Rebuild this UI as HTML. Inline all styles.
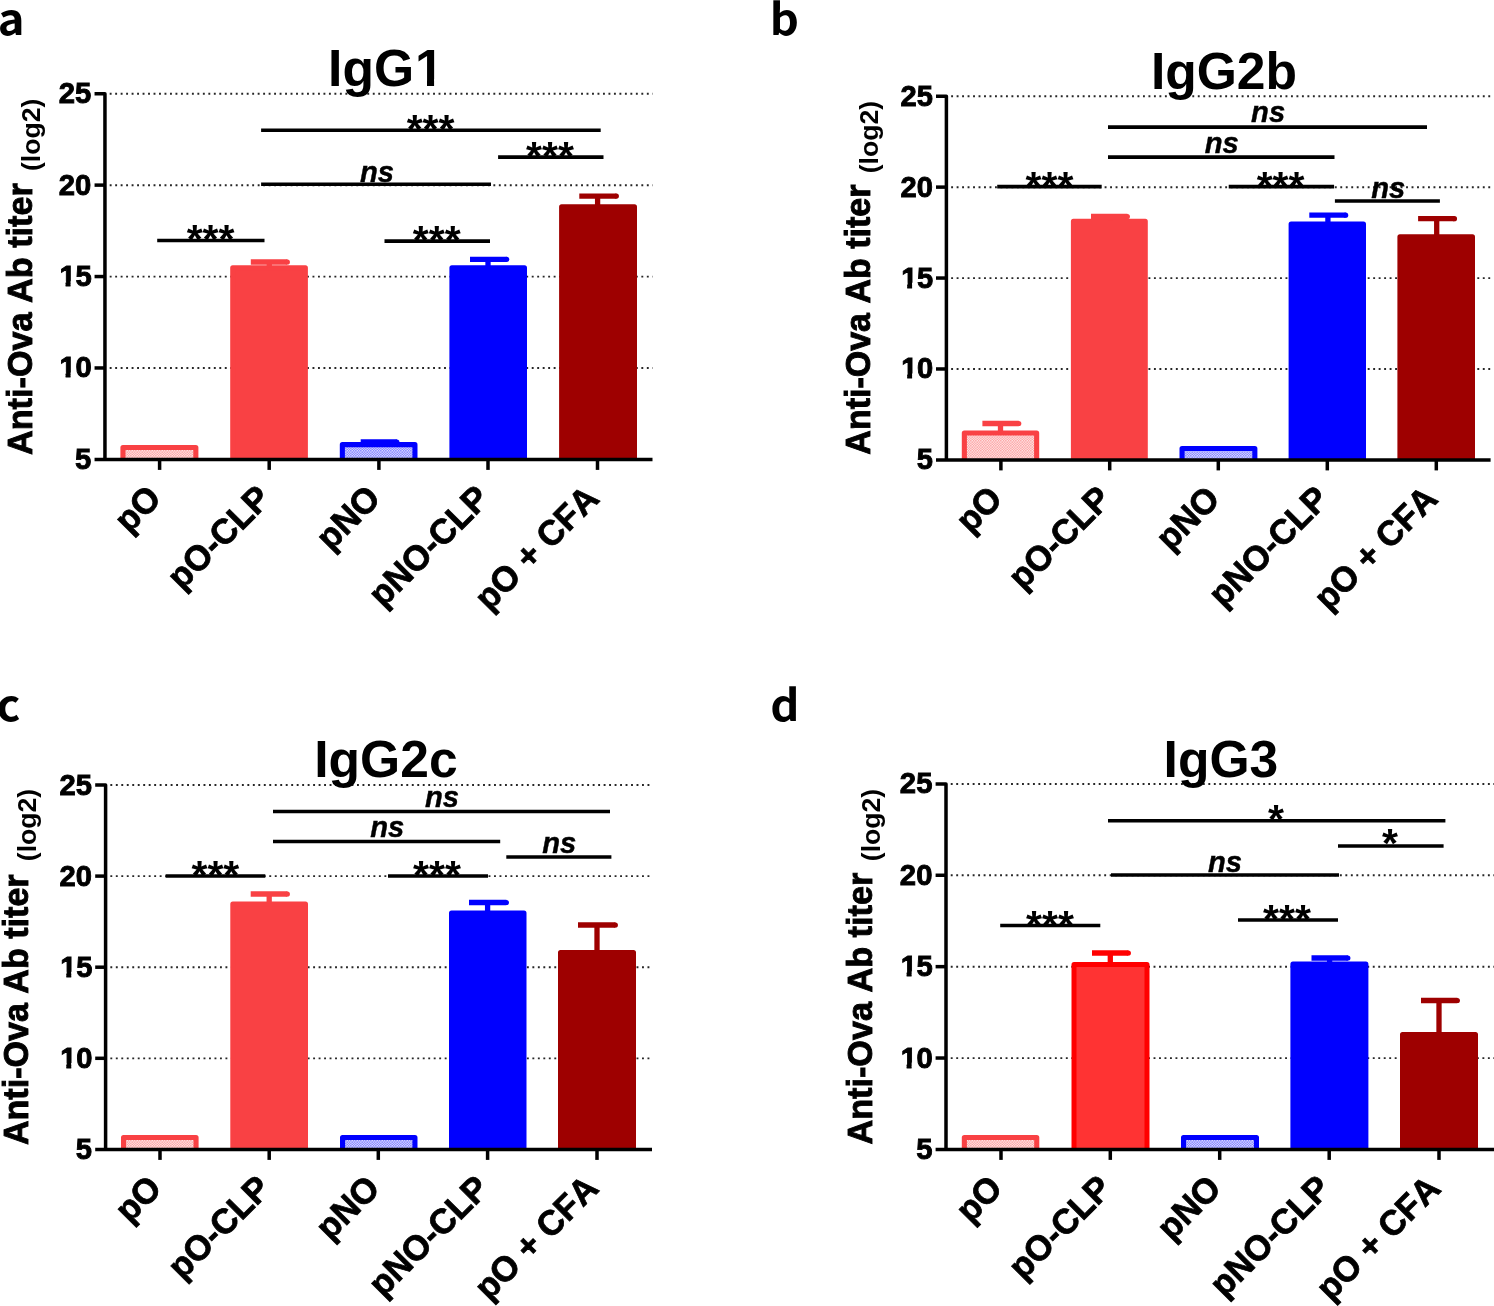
<!DOCTYPE html>
<html lang="en"><head><meta charset="utf-8"><title>Anti-Ova antibody titers: IgG1, IgG2b, IgG2c, IgG3</title>
<style>
html,body{margin:0;padding:0;background:#fff}
body{width:1494px;height:1306px}
svg{display:block}
text{font-family:"Liberation Sans", sans-serif;font-weight:bold;fill:#000;font-kerning:none}
.g{stroke:#262626;stroke-width:1.9;stroke-dasharray:1.9 3.581}
.a{stroke:#000;stroke-width:3.5;fill:none;stroke-linejoin:round}
.s{stroke:#000;stroke-width:3.6;fill:none}
.t{font-size:29.25px;stroke:#000;stroke-width:.9px}
.x{font-size:34.45px;stroke:#000;stroke-width:.75px}
.y{font-size:34.23px;stroke:#000;stroke-width:.9px}
.pb .t{font-size:29.09px}.pb .x{font-size:34.26px}.pb .y{font-size:34.0px}
.pc .t{font-size:29.16px}.pc .x{font-size:34.35px}.pc .y{font-size:34.09px}
.pd .t{font-size:29.25px}.pd .x{font-size:34.45px}.pd .y{font-size:34.23px}
.y2{font-size:26.6px}
.ti{font-size:51.6px}
.pl{font-family:"Noto Sans CJK SC","Liberation Sans",sans-serif;font-size:43.6px}
.st{font-size:41px}
.ns{font-size:29.2px;font-style:italic;stroke:#000;stroke-width:.4px}
</style></head><body>
<svg width="1494" height="1306" viewBox="0 0 1494 1306" role="img" aria-label="Anti-Ova antibody titers (log2) for IgG1, IgG2b, IgG2c and IgG3">
<defs>
<pattern id="hr" width="2.5" height="2.5" patternUnits="userSpaceOnUse" patternTransform="translate(.3 .2)"><rect width="2.5" height="2.5" fill="#fff"/><rect width="1.25" height="1.25" fill="#F94144" fill-opacity=".64"/><rect x="1.25" y="1.25" width="1.25" height="1.25" fill="#F94144" fill-opacity=".64"/></pattern>
<pattern id="hb" width="2.5" height="2.5" patternUnits="userSpaceOnUse" patternTransform="translate(.3 .2)"><rect width="2.5" height="2.5" fill="#fff"/><rect width="1.25" height="1.25" fill="#0000FF" fill-opacity=".64"/><rect x="1.25" y="1.25" width="1.25" height="1.25" fill="#0000FF" fill-opacity=".64"/></pattern>
<clipPath id="ca"><rect x="0" y="0" width="1494" height="459.4"/></clipPath>
<clipPath id="cb"><rect x="0" y="0" width="1494" height="459.9"/></clipPath>
<clipPath id="cc"><rect x="0" y="0" width="1494" height="1149.4"/></clipPath>
</defs>
<rect width="1494" height="1306" fill="#fff"/>
<defs>
<clipPath id="k1"><path clip-rule="evenodd" d="M-400 -200H400V200H-400ZM-34.13 -4.79H-25.76V1.95H-34.13ZM-20.84 -4.79H-15.77L-14.07 1.95H-20.84Z"/></clipPath>
<clipPath id="k2"><path clip-rule="evenodd" d="M-400 -200H400V200H-400ZM27.12 -6.67H41.18V1.5H27.12ZM48.23 -6.67H60.08L60.08 1.5H48.23Z"/></clipPath>
<clipPath id="k3"><path clip-rule="evenodd" d="M-400 -200H400V200H-400ZM-33.96 -4.78H-25.62V1.95H-33.96ZM-20.72 -4.78H-15.68L-13.98 1.95H-20.72Z"/></clipPath>
<clipPath id="k4"><path clip-rule="evenodd" d="M-400 -200H400V200H-400ZM-34.04 -4.78H-25.68V1.95H-34.04ZM-20.78 -4.78H-15.72L-14.02 1.95H-20.78Z"/></clipPath>
</defs>
<g id="panel-a" class="pa">
<line class="g" x1="109.7" y1="93.75" x2="652.7" y2="93.75"/>
<line class="g" x1="109.7" y1="185.18" x2="652.7" y2="185.18"/>
<line class="g" x1="109.7" y1="276.6" x2="652.7" y2="276.6"/>
<line class="g" x1="109.7" y1="368.02" x2="652.7" y2="368.02"/>
<g clip-path="url(#ca)">
<rect x="122.95" y="447.45" width="72.9" height="14.5" fill="url(#hr)" stroke="#F94144" stroke-width="5.1" stroke-linejoin="round"/>
<rect x="232.7" y="267.8" width="72.7" height="194.1" fill="#F94144" stroke="#F94144" stroke-width="5" stroke-linejoin="round"/>
<rect x="342.35" y="444.65" width="72.6" height="17.3" fill="url(#hb)" stroke="#0000FF" stroke-width="5.1" stroke-linejoin="round"/>
<rect x="451.9" y="267.8" width="72.6" height="194.1" fill="#0000FF" stroke="#0000FF" stroke-width="5" stroke-linejoin="round"/>
<rect x="561.6" y="206.8" width="72.9" height="255.1" fill="#9E0000" stroke="#9E0000" stroke-width="5" stroke-linejoin="round"/>
</g>
<path d="M269.3 267.3V262" stroke="#F94144" stroke-width="5.3" fill="none"/>
<path d="M250.8 262H287.4" stroke="#F94144" stroke-width="5.3" fill="none"/>
<circle cx="287.35" cy="262" r="2.58" fill="#F94144"/>
<path d="M378.9 444.1V442" stroke="#0000FF" stroke-width="5.3" fill="none"/>
<path d="M360.7 442H396.9" stroke="#0000FF" stroke-width="5.3" fill="none"/>
<circle cx="396.85" cy="442" r="2.58" fill="#0000FF"/>
<path d="M488 267.3V259.3" stroke="#0000FF" stroke-width="5.3" fill="none"/>
<path d="M470 259.3H506.7" stroke="#0000FF" stroke-width="5.3" fill="none"/>
<circle cx="506.65" cy="259.3" r="2.58" fill="#0000FF"/>
<path d="M597.6 206.3V196.1" stroke="#9E0000" stroke-width="5.3" fill="none"/>
<path d="M579.3 196.1H616.4" stroke="#9E0000" stroke-width="5.3" fill="none"/>
<circle cx="616.35" cy="196.1" r="2.58" fill="#9E0000"/>
<path class="a" d="M94.55 93.7H104.95V459.4"/>
<path class="a" d="M94.55 459.4H652.5"/>
<path class="a" d="M94.55 185.12H104.95"/>
<path class="a" d="M94.55 276.55H104.95"/>
<path class="a" d="M94.55 367.97H104.95"/>
<path class="a" d="M159.6 459.4V469.9"/>
<path class="a" d="M269.2 459.4V469.9"/>
<path class="a" d="M378.9 459.4V469.9"/>
<path class="a" d="M488 459.4V469.9"/>
<path class="a" d="M597.5 459.4V469.9"/>
<text class="t" transform="translate(91.35 103.2) scale(1 1.025)" text-anchor="end">25</text>
<text class="t" transform="translate(91.35 194.62) scale(1 1.025)" text-anchor="end">20</text>
<text class="t" transform="translate(91.35 286.05) scale(1 1.025)" text-anchor="end" dx="0.4 -0.4" clip-path="url(#k1)">15</text>
<text class="t" transform="translate(91.35 377.47) scale(1 1.025)" text-anchor="end" dx="0.4 -0.4" clip-path="url(#k1)">10</text>
<text class="t" transform="translate(91.35 468.9) scale(1 1.025)" text-anchor="end">5</text>
<text class="x" transform="translate(162.9 500.3) rotate(-45) scale(1 1.025)" text-anchor="end">pO</text>
<text class="x" transform="translate(272.5 500.3) rotate(-45) scale(1 1.025)" text-anchor="end">pO-CLP</text>
<text class="x" transform="translate(382.2 500.3) rotate(-45) scale(1 1.025)" text-anchor="end">pNO</text>
<text class="x" transform="translate(491.3 500.3) rotate(-45) scale(1 1.025)" text-anchor="end">pNO-CLP</text>
<text class="x" transform="translate(600.8 500.3) rotate(-45) scale(1 1.025)" text-anchor="end">pO + CFA</text>
<text class="y" transform="translate(31.6 455) rotate(-90) scale(1 1.015)">Anti-Ova Ab titer</text>
<text class="y2" transform="translate(40 171) rotate(-90)">(log2)</text>
<text class="ti" transform="translate(385.85 86)" text-anchor="middle" dx="0 0 0 0.9" clip-path="url(#k2)">IgG1</text>
<text class="pl" transform="translate(-2.3 35.2) scale(1.04 1)">a</text>
<path class="s" d="M157.2 240.45H264.5"/>
<text class="st" x="210.6" y="253.45" text-anchor="middle">***</text>
<path class="s" d="M384.5 241.1H490"/>
<text class="st" x="436.8" y="254.1" text-anchor="middle">***</text>
<path class="s" d="M261.1 184.2H491"/>
<text class="ns" x="377" y="181.9" text-anchor="middle">ns</text>
<path class="s" d="M261.1 130.3H600.7"/>
<text class="st" x="430.6" y="143.3" text-anchor="middle">***</text>
<path class="s" d="M498.1 157.1H603.5"/>
<text class="st" x="550" y="170.1" text-anchor="middle">***</text>
</g>
<g id="panel-b" class="pb">
<line class="g" x1="951.15" y1="96.25" x2="1491.3" y2="96.25"/>
<line class="g" x1="951.15" y1="187.18" x2="1491.3" y2="187.18"/>
<line class="g" x1="951.15" y1="278.1" x2="1491.3" y2="278.1"/>
<line class="g" x1="951.15" y1="369.02" x2="1491.3" y2="369.02"/>
<g clip-path="url(#cb)">
<rect x="964.35" y="433.05" width="72.3" height="29.4" fill="url(#hr)" stroke="#F94144" stroke-width="5.1" stroke-linejoin="round"/>
<rect x="1073.4" y="221.2" width="71.9" height="241.2" fill="#F94144" stroke="#F94144" stroke-width="5" stroke-linejoin="round"/>
<rect x="1182.05" y="448.55" width="72.8" height="13.9" fill="url(#hb)" stroke="#0000FF" stroke-width="5.1" stroke-linejoin="round"/>
<rect x="1291.1" y="224" width="72.4" height="238.4" fill="#0000FF" stroke="#0000FF" stroke-width="5" stroke-linejoin="round"/>
<rect x="1399.9" y="236.7" width="72.6" height="225.7" fill="#9E0000" stroke="#9E0000" stroke-width="5" stroke-linejoin="round"/>
</g>
<path d="M1000.5 432.5V423.5" stroke="#F94144" stroke-width="5.3" fill="none"/>
<path d="M982.4 423.5H1018.8" stroke="#F94144" stroke-width="5.3" fill="none"/>
<circle cx="1018.75" cy="423.5" r="2.58" fill="#F94144"/>
<path d="M1109.7 220.7V216.5" stroke="#F94144" stroke-width="5.3" fill="none"/>
<path d="M1091 216.5H1127.4" stroke="#F94144" stroke-width="5.3" fill="none"/>
<circle cx="1127.35" cy="216.5" r="2.58" fill="#F94144"/>
<path d="M1327.9 223.5V215.2" stroke="#0000FF" stroke-width="5.3" fill="none"/>
<path d="M1309.3 215.2H1345.7" stroke="#0000FF" stroke-width="5.3" fill="none"/>
<circle cx="1345.65" cy="215.2" r="2.58" fill="#0000FF"/>
<path d="M1436.7 236.2V218.7" stroke="#9E0000" stroke-width="5.3" fill="none"/>
<path d="M1418.1 218.7H1454.5" stroke="#9E0000" stroke-width="5.3" fill="none"/>
<circle cx="1454.45" cy="218.7" r="2.58" fill="#9E0000"/>
<path class="a" d="M936 96.2H946.4V459.9"/>
<path class="a" d="M936 459.9H1490.6"/>
<path class="a" d="M936 187.12H946.4"/>
<path class="a" d="M936 278.05H946.4"/>
<path class="a" d="M936 368.97H946.4"/>
<path class="a" d="M1000.9 459.9V470.4"/>
<path class="a" d="M1109.7 459.9V470.4"/>
<path class="a" d="M1218.3 459.9V470.4"/>
<path class="a" d="M1327.3 459.9V470.4"/>
<path class="a" d="M1436.3 459.9V470.4"/>
<text class="t" transform="translate(932.8 105.7) scale(1 1.025)" text-anchor="end">25</text>
<text class="t" transform="translate(932.8 196.62) scale(1 1.025)" text-anchor="end">20</text>
<text class="t" transform="translate(932.8 287.55) scale(1 1.025)" text-anchor="end" dx="0.4 -0.4" clip-path="url(#k3)">15</text>
<text class="t" transform="translate(932.8 378.47) scale(1 1.025)" text-anchor="end" dx="0.4 -0.4" clip-path="url(#k3)">10</text>
<text class="t" transform="translate(932.8 469.4) scale(1 1.025)" text-anchor="end">5</text>
<text class="x" transform="translate(1004.2 500.8) rotate(-45) scale(1 1.025)" text-anchor="end">pO</text>
<text class="x" transform="translate(1113 500.8) rotate(-45) scale(1 1.025)" text-anchor="end">pO-CLP</text>
<text class="x" transform="translate(1221.6 500.8) rotate(-45) scale(1 1.025)" text-anchor="end">pNO</text>
<text class="x" transform="translate(1330.6 500.8) rotate(-45) scale(1 1.025)" text-anchor="end">pNO-CLP</text>
<text class="x" transform="translate(1439.6 500.8) rotate(-45) scale(1 1.025)" text-anchor="end">pO + CFA</text>
<text class="y" transform="translate(869.5 454.65) rotate(-90) scale(1 1.015)">Anti-Ova Ab titer</text>
<text class="y2" transform="translate(878 173.3) rotate(-90)">(log2)</text>
<text class="ti" x="1224" y="89" text-anchor="middle">IgG2b</text>
<text class="pl" transform="translate(769.8 35.3) scale(1.04 1)">b</text>
<path class="s" d="M997.2 186.6H1101.7"/>
<text class="st" x="1049.5" y="199.6" text-anchor="middle">***</text>
<path class="s" d="M1228.7 186.6H1334.1"/>
<text class="st" x="1280.6" y="199.6" text-anchor="middle">***</text>
<path class="s" d="M1108 157.1H1334.5"/>
<text class="ns" x="1221.8" y="152.7" text-anchor="middle">ns</text>
<path class="s" d="M1108 127.1H1427"/>
<text class="ns" x="1268.1" y="121.9" text-anchor="middle">ns</text>
<path class="s" d="M1334.9 201H1439.9"/>
<text class="ns" x="1388.3" y="198.4" text-anchor="middle">ns</text>
</g>
<g id="panel-c" class="pc">
<line class="g" x1="110.35" y1="785.05" x2="652.7" y2="785.05"/>
<line class="g" x1="110.35" y1="876.15" x2="652.7" y2="876.15"/>
<line class="g" x1="110.35" y1="967.25" x2="652.7" y2="967.25"/>
<line class="g" x1="110.35" y1="1058.35" x2="652.7" y2="1058.35"/>
<g clip-path="url(#cc)">
<rect x="123.55" y="1137.45" width="72.5" height="14.5" fill="url(#hr)" stroke="#F94144" stroke-width="5.1" stroke-linejoin="round"/>
<rect x="232.8" y="904" width="72.7" height="247.9" fill="#F94144" stroke="#F94144" stroke-width="5" stroke-linejoin="round"/>
<rect x="342.55" y="1137.55" width="72.4" height="14.4" fill="url(#hb)" stroke="#0000FF" stroke-width="5.1" stroke-linejoin="round"/>
<rect x="451.5" y="913" width="72.5" height="238.9" fill="#0000FF" stroke="#0000FF" stroke-width="5" stroke-linejoin="round"/>
<rect x="560.5" y="952.5" width="73" height="199.4" fill="#9E0000" stroke="#9E0000" stroke-width="5" stroke-linejoin="round"/>
</g>
<path d="M269.2 903.5V894" stroke="#F94144" stroke-width="5.3" fill="none"/>
<path d="M250.7 894H287.4" stroke="#F94144" stroke-width="5.3" fill="none"/>
<circle cx="287.35" cy="894" r="2.58" fill="#F94144"/>
<path d="M487.6 912.5V902.5" stroke="#0000FF" stroke-width="5.3" fill="none"/>
<path d="M469 902.5H506.4" stroke="#0000FF" stroke-width="5.3" fill="none"/>
<circle cx="506.35" cy="902.5" r="2.58" fill="#0000FF"/>
<path d="M597 952V925" stroke="#9E0000" stroke-width="5.3" fill="none"/>
<path d="M578 925H615.4" stroke="#9E0000" stroke-width="5.3" fill="none"/>
<circle cx="615.35" cy="925" r="2.58" fill="#9E0000"/>
<path class="a" d="M95.2 785H105.6V1149.4"/>
<path class="a" d="M95.2 1149.4H652"/>
<path class="a" d="M95.2 876.1H105.6"/>
<path class="a" d="M95.2 967.2H105.6"/>
<path class="a" d="M95.2 1058.3H105.6"/>
<path class="a" d="M160 1149.4V1159.9"/>
<path class="a" d="M269.2 1149.4V1159.9"/>
<path class="a" d="M378.3 1149.4V1159.9"/>
<path class="a" d="M487.6 1149.4V1159.9"/>
<path class="a" d="M597 1149.4V1159.9"/>
<text class="t" transform="translate(92 794.5) scale(1 1.025)" text-anchor="end">25</text>
<text class="t" transform="translate(92 885.6) scale(1 1.025)" text-anchor="end">20</text>
<text class="t" transform="translate(92 976.7) scale(1 1.025)" text-anchor="end" dx="0.4 -0.4" clip-path="url(#k4)">15</text>
<text class="t" transform="translate(92 1067.8) scale(1 1.025)" text-anchor="end" dx="0.4 -0.4" clip-path="url(#k4)">10</text>
<text class="t" transform="translate(92 1158.9) scale(1 1.025)" text-anchor="end">5</text>
<text class="x" transform="translate(163.3 1190.3) rotate(-45) scale(1 1.025)" text-anchor="end">pO</text>
<text class="x" transform="translate(272.5 1190.3) rotate(-45) scale(1 1.025)" text-anchor="end">pO-CLP</text>
<text class="x" transform="translate(381.6 1190.3) rotate(-45) scale(1 1.025)" text-anchor="end">pNO</text>
<text class="x" transform="translate(490.9 1190.3) rotate(-45) scale(1 1.025)" text-anchor="end">pNO-CLP</text>
<text class="x" transform="translate(600.3 1190.3) rotate(-45) scale(1 1.025)" text-anchor="end">pO + CFA</text>
<text class="y" transform="translate(28.3 1145.1) rotate(-90) scale(1 1.015)">Anti-Ova Ab titer</text>
<text class="y2" transform="translate(36.3 861.2) rotate(-90)">(log2)</text>
<text class="ti" x="385.9" y="777" text-anchor="middle">IgG2c</text>
<text class="pl" transform="translate(-3.6 721.2) scale(1.04 1)">c</text>
<path class="s" d="M165.6 876H265.3"/>
<text class="st" x="215.4" y="889" text-anchor="middle">***</text>
<path class="s" d="M388 876H488"/>
<text class="st" x="437" y="889" text-anchor="middle">***</text>
<path class="s" d="M273 841.5H500.2"/>
<text class="ns" x="387.3" y="837.2" text-anchor="middle">ns</text>
<path class="s" d="M273 811.5H610"/>
<text class="ns" x="442" y="806.7" text-anchor="middle">ns</text>
<path class="s" d="M506.3 857H611.4"/>
<text class="ns" x="559.3" y="852.5" text-anchor="middle">ns</text>
</g>
<g id="panel-d" class="pd">
<line class="g" x1="950.75" y1="783.95" x2="1494" y2="783.95"/>
<line class="g" x1="950.75" y1="875.32" x2="1494" y2="875.32"/>
<line class="g" x1="950.75" y1="966.7" x2="1494" y2="966.7"/>
<line class="g" x1="950.75" y1="1058.08" x2="1494" y2="1058.08"/>
<g clip-path="url(#cc)">
<rect x="964.35" y="1137.45" width="72.4" height="14.5" fill="url(#hr)" stroke="#F94144" stroke-width="5.1" stroke-linejoin="round"/>
<rect x="1074" y="964.5" width="73" height="187.4" fill="#FF3333" stroke="#FF0000" stroke-width="5" stroke-linejoin="round"/>
<rect x="1183.55" y="1137.55" width="72.9" height="14.4" fill="url(#hb)" stroke="#0000FF" stroke-width="5.1" stroke-linejoin="round"/>
<rect x="1292.9" y="964.1" width="73" height="187.8" fill="#0000FF" stroke="#0000FF" stroke-width="5" stroke-linejoin="round"/>
<rect x="1402.5" y="1034.5" width="73" height="117.4" fill="#9E0000" stroke="#9E0000" stroke-width="5" stroke-linejoin="round"/>
</g>
<path d="M1110.3 963.5V953" stroke="#FF0000" stroke-width="5.3" fill="none"/>
<path d="M1092 953H1128.4" stroke="#FF0000" stroke-width="5.3" fill="none"/>
<circle cx="1128.35" cy="953" r="2.58" fill="#FF0000"/>
<path d="M1329.6 963.6V958" stroke="#0000FF" stroke-width="5.3" fill="none"/>
<path d="M1311.5 958H1347.9" stroke="#0000FF" stroke-width="5.3" fill="none"/>
<circle cx="1347.85" cy="958" r="2.58" fill="#0000FF"/>
<path d="M1439 1034V1000.5" stroke="#9E0000" stroke-width="5.3" fill="none"/>
<path d="M1421 1000.5H1457.4" stroke="#9E0000" stroke-width="5.3" fill="none"/>
<circle cx="1457.35" cy="1000.5" r="2.58" fill="#9E0000"/>
<path class="a" d="M935.6 783.9H946V1149.4"/>
<path class="a" d="M935.6 1149.4H1494"/>
<path class="a" d="M935.6 875.27H946"/>
<path class="a" d="M935.6 966.65H946"/>
<path class="a" d="M935.6 1058.03H946"/>
<path class="a" d="M1001 1149.4V1159.9"/>
<path class="a" d="M1110.3 1149.4V1159.9"/>
<path class="a" d="M1219.7 1149.4V1159.9"/>
<path class="a" d="M1329.2 1149.4V1159.9"/>
<path class="a" d="M1439 1149.4V1159.9"/>
<text class="t" transform="translate(932.4 793.4) scale(1 1.025)" text-anchor="end">25</text>
<text class="t" transform="translate(932.4 884.77) scale(1 1.025)" text-anchor="end">20</text>
<text class="t" transform="translate(932.4 976.15) scale(1 1.025)" text-anchor="end" dx="0.4 -0.4" clip-path="url(#k1)">15</text>
<text class="t" transform="translate(932.4 1067.53) scale(1 1.025)" text-anchor="end" dx="0.4 -0.4" clip-path="url(#k1)">10</text>
<text class="t" transform="translate(932.4 1158.9) scale(1 1.025)" text-anchor="end">5</text>
<text class="x" transform="translate(1004.3 1190.3) rotate(-45) scale(1 1.025)" text-anchor="end">pO</text>
<text class="x" transform="translate(1113.6 1190.3) rotate(-45) scale(1 1.025)" text-anchor="end">pO-CLP</text>
<text class="x" transform="translate(1223 1190.3) rotate(-45) scale(1 1.025)" text-anchor="end">pNO</text>
<text class="x" transform="translate(1332.5 1190.3) rotate(-45) scale(1 1.025)" text-anchor="end">pNO-CLP</text>
<text class="x" transform="translate(1442.3 1190.3) rotate(-45) scale(1 1.025)" text-anchor="end">pO + CFA</text>
<text class="y" transform="translate(871.5 1144.55) rotate(-90) scale(1 1.015)">Anti-Ova Ab titer</text>
<text class="y2" transform="translate(880 861.2) rotate(-90)">(log2)</text>
<text class="ti" x="1220.9" y="777" text-anchor="middle">IgG3</text>
<text class="pl" transform="translate(770.2 721.2) scale(1.04 1)">d</text>
<path class="s" d="M1000.2 925.5H1100.3"/>
<text class="st" x="1050" y="938.5" text-anchor="middle">***</text>
<path class="s" d="M1238 920H1338"/>
<text class="st" x="1287" y="933" text-anchor="middle">***</text>
<path class="s" d="M1111 875H1339"/>
<text class="ns" x="1225" y="871.7" text-anchor="middle">ns</text>
<path class="s" d="M1108 820.8H1445.4"/>
<text class="st" x="1276" y="833.4" text-anchor="middle">*</text>
<path class="s" d="M1338 846H1443.6"/>
<text class="st" x="1390" y="856.7" text-anchor="middle">*</text>
</g>
</svg></body></html>
